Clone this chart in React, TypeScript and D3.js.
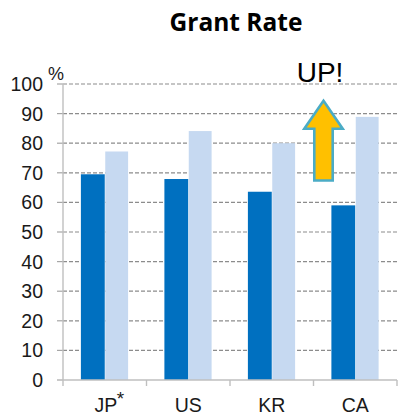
import React, { useEffect, useRef } from "react";
import * as d3 from "d3";

const categories = ["JP", "US", "KR", "CA"];
const before = [69.5, 67.9, 63.6, 59.0];
const after = [77.2, 84.1, 80.0, 88.9];
const yTicks = [0, 10, 20, 30, 40, 50, 60, 70, 80, 90, 100];
const arrowFrom = 67;
const arrowTo = 95;

const W = 401;
const H = 414;

const App = () => {
  const svgRef = useRef<SVGSVGElement>(null);

  useEffect(() => {
    const svg = d3.select(svgRef.current);
    svg.selectAll("*").remove();

    const left = 63,
      right = 397,
      top = 84,
      bottom = 380;

    const x = d3.scaleBand().domain(categories).range([left, right]);
    const x1 = d3
      .scaleBand()
      .domain(["before", "after"])
      .range([0, x.bandwidth()])
      .paddingOuter(0.75);
    const y = d3.scaleLinear().domain([0, 100]).range([bottom, top]);

    // title
    svg
      .append("text")
      .attr("x", 236)
      .attr("y", 31)
      .attr("text-anchor", "middle")
      .style("font-family", "'Open Sans', sans-serif")
      .style("font-weight", 700)
      .style("font-size", "24.5px")
      .attr("fill", "#000")
      .text("Grant Rate");

    // gridlines
    svg
      .selectAll(".grid")
      .data(yTicks.filter((d) => d > 0))
      .join("line")
      .attr("x1", left)
      .attr("x2", right)
      .attr("y1", (d) => y(d))
      .attr("y2", (d) => y(d))
      .attr("stroke", "#8c8c8c")
      .attr("stroke-width", 1.2)
      .attr("stroke-dasharray", "4 2");

    // y ticks + labels
    svg
      .selectAll(".ytick")
      .data(yTicks)
      .join("line")
      .attr("x1", left - 6)
      .attr("x2", left)
      .attr("y1", (d) => y(d))
      .attr("y2", (d) => y(d))
      .attr("stroke", "#a6a6a6")
      .attr("stroke-width", 1.2);

    svg
      .selectAll(".ylabel")
      .data(yTicks)
      .join("text")
      .attr("x", left - 20)
      .attr("y", (d) => y(d) + 6.9)
      .attr("text-anchor", "end")
      .style("font-family", "'Liberation Sans', Arial, sans-serif")
      .style("font-size", "19.5px")
      .attr("fill", "#1a1a1a")
      .text((d) => d);

    svg
      .append("text")
      .attr("x", 48)
      .attr("y", 80)
      .style("font-family", "'Liberation Sans', Arial, sans-serif")
      .style("font-size", "18px")
      .attr("fill", "#1a1a1a")
      .text("%");

    // bars
    const g = svg
      .selectAll(".cat")
      .data(categories)
      .join("g")
      .attr("transform", (d) => `translate(${x(d)},0)`);

    g.append("rect")
      .attr("x", x1("before")!)
      .attr("width", x1.bandwidth())
      .attr("y", (d, i) => y(before[i]))
      .attr("height", (d, i) => bottom - y(before[i]))
      .attr("fill", "#0070c0");

    g.append("rect")
      .attr("x", x1("after")! + 0.5)
      .attr("width", x1.bandwidth() - 1)
      .attr("y", (d, i) => y(after[i]))
      .attr("height", (d, i) => bottom - y(after[i]))
      .attr("fill", "#c6d9f1");

    // axes
    svg
      .append("line")
      .attr("x1", left)
      .attr("x2", left)
      .attr("y1", top)
      .attr("y2", bottom)
      .attr("stroke", "#bfbfbf")
      .attr("stroke-width", 1.4);

    svg
      .append("line")
      .attr("x1", left)
      .attr("x2", right)
      .attr("y1", bottom)
      .attr("y2", bottom)
      .attr("stroke", "#bfbfbf")
      .attr("stroke-width", 1.4);

    const bounds = categories.map((c) => x(c)!).concat([right]);
    svg
      .selectAll(".xtick")
      .data(bounds)
      .join("line")
      .attr("x1", (d) => d)
      .attr("x2", (d) => d)
      .attr("y1", bottom)
      .attr("y2", bottom + 6)
      .attr("stroke", "#bfbfbf")
      .attr("stroke-width", 1.4);

    // category labels
    const labels = svg
      .selectAll(".xlabel")
      .data(categories)
      .join("text")
      .attr("x", (d) => x(d)! + x.bandwidth() / 2 + (d === "JP" ? 4.5 : 0))
      .attr("y", 411.5)
      .attr("text-anchor", "middle")
      .style("font-family", "'Liberation Sans', Arial, sans-serif")
      .style("font-size", "19.5px")
      .attr("fill", "#1a1a1a");
    labels.append("tspan").text((d) => d);
    labels
      .filter((d) => d === "JP")
      .append("tspan")
      .attr("dy", -7)
      .attr("dx", -0.5)
      .style("font-size", "19px")
      .text("*");

    // UP arrow
    const cx = x("CA")! + 10;
    const tipY = y(arrowTo);
    const baseY = y(arrowFrom);
    const headY = tipY + 30;
    const hw = 19.2;
    const sw = 9.2;
    const arrowPath = d3.path();
    arrowPath.moveTo(cx, tipY + 2);
    arrowPath.lineTo(cx + hw, headY);
    arrowPath.lineTo(cx + sw, headY);
    arrowPath.lineTo(cx + sw, baseY - 1.2);
    arrowPath.lineTo(cx - sw, baseY - 1.2);
    arrowPath.lineTo(cx - sw, headY);
    arrowPath.lineTo(cx - hw, headY);
    arrowPath.closePath();
    svg
      .append("path")
      .attr("d", arrowPath.toString())
      .attr("fill", "#ffc000")
      .attr("stroke", "#4bacc6")
      .attr("stroke-width", 2.6)
      .attr("stroke-linejoin", "miter");

    svg
      .append("text")
      .attr("x", 320)
      .attr("y", 82)
      .attr("text-anchor", "middle")
      .style("font-family", "'Liberation Sans', Arial, sans-serif")
      .style("font-size", "28px")
      .attr("fill", "#000")
      .text("UP!");
  }, []);

  return (
    <div style={{ position: "absolute", left: 0, top: 0 }}>
      <svg ref={svgRef} width={W} height={H} style={{ display: "block", background: "#fff" }}></svg>
    </div>
  );
};

export default App;
